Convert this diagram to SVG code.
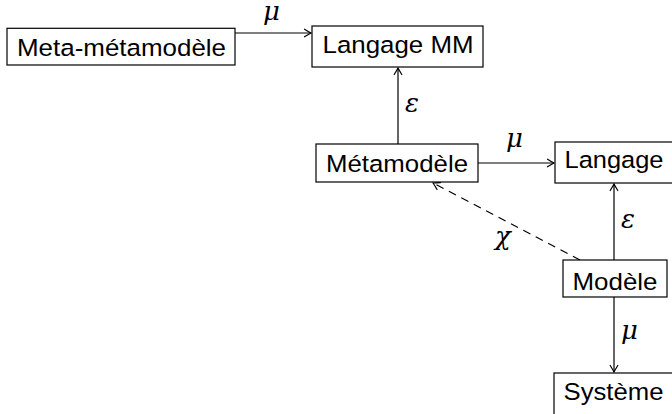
<svg xmlns="http://www.w3.org/2000/svg" width="672" height="414" viewBox="0 0 672 414">
<style>
.box{fill:#fff;stroke:#000;stroke-width:1.2}
.lbl{font-family:"Liberation Sans",Arial,sans-serif;font-size:24.5px;text-anchor:middle;fill:#000}
.gr{font-family:"DejaVu Serif","Liberation Serif",serif;font-style:italic;font-size:26px;fill:#000}
.ln{stroke:#000;stroke-width:1.2;fill:none}
.dash{stroke-dasharray:8 6}
</style>
<defs>
<marker id="ah" viewBox="-8 -5 10 10" refX="0" refY="0" markerWidth="10" markerHeight="10" markerUnits="userSpaceOnUse" orient="auto">
<path d="M-6.5,-3.8 Q-2,-1 0,0 Q-2,1 -6.5,3.8" fill="none" stroke="#000" stroke-width="1.2" stroke-linecap="round"/>
</marker>
</defs>
<g id="connectors">
<line class="ln" x1="235" y1="33" x2="311" y2="33" marker-end="url(#ah)"/>
<line class="ln" x1="398" y1="144" x2="398" y2="68" marker-end="url(#ah)"/>
<line class="ln" x1="478" y1="163" x2="554" y2="163" marker-end="url(#ah)"/>
<line class="ln" x1="614" y1="260" x2="614" y2="184" marker-end="url(#ah)"/>
<line class="ln" x1="614" y1="297" x2="614" y2="372" marker-end="url(#ah)"/>
<line class="ln dash" x1="580" y1="260" x2="433" y2="183" marker-end="url(#ah)"/>
<text class="gr" x="263" y="20">μ</text>
<text class="gr" x="405" y="112">ε</text>
<text class="gr" x="506" y="147">μ</text>
<text class="gr" x="495" y="245">χ</text>
<text class="gr" x="621" y="228">ε</text>
<text class="gr" x="621" y="339">μ</text>
</g>
<g id="metametamodele">
<rect class="box" x="7" y="28.3" width="228" height="36.7"/>
<text class="lbl" x="121.5" y="56" textLength="209" lengthAdjust="spacingAndGlyphs">Meta-métamodèle</text>
</g>
<g id="langagemm">
<rect class="box" x="312" y="26" width="171" height="41"/>
<text class="lbl" x="398" y="53" textLength="151" lengthAdjust="spacingAndGlyphs">Langage MM</text>
</g>
<g id="metamodele">
<rect class="box" x="316" y="144" width="162" height="38"/>
<text class="lbl" x="397" y="171.7" textLength="142" lengthAdjust="spacingAndGlyphs">Métamodèle</text>
</g>
<g id="langage">
<rect class="box" x="555" y="142" width="118" height="41"/>
<text class="lbl" x="614" y="168" textLength="99" lengthAdjust="spacingAndGlyphs">Langage</text>
</g>
<g id="modele">
<rect class="box" x="563" y="260" width="104" height="37"/>
<text class="lbl" x="615" y="290" textLength="85" lengthAdjust="spacingAndGlyphs">Modèle</text>
</g>
<g id="systeme">
<rect class="box" x="554" y="373" width="120" height="42"/>
<text class="lbl" x="613.5" y="399.5" textLength="100" lengthAdjust="spacingAndGlyphs">Système</text>
</g>
</svg>
